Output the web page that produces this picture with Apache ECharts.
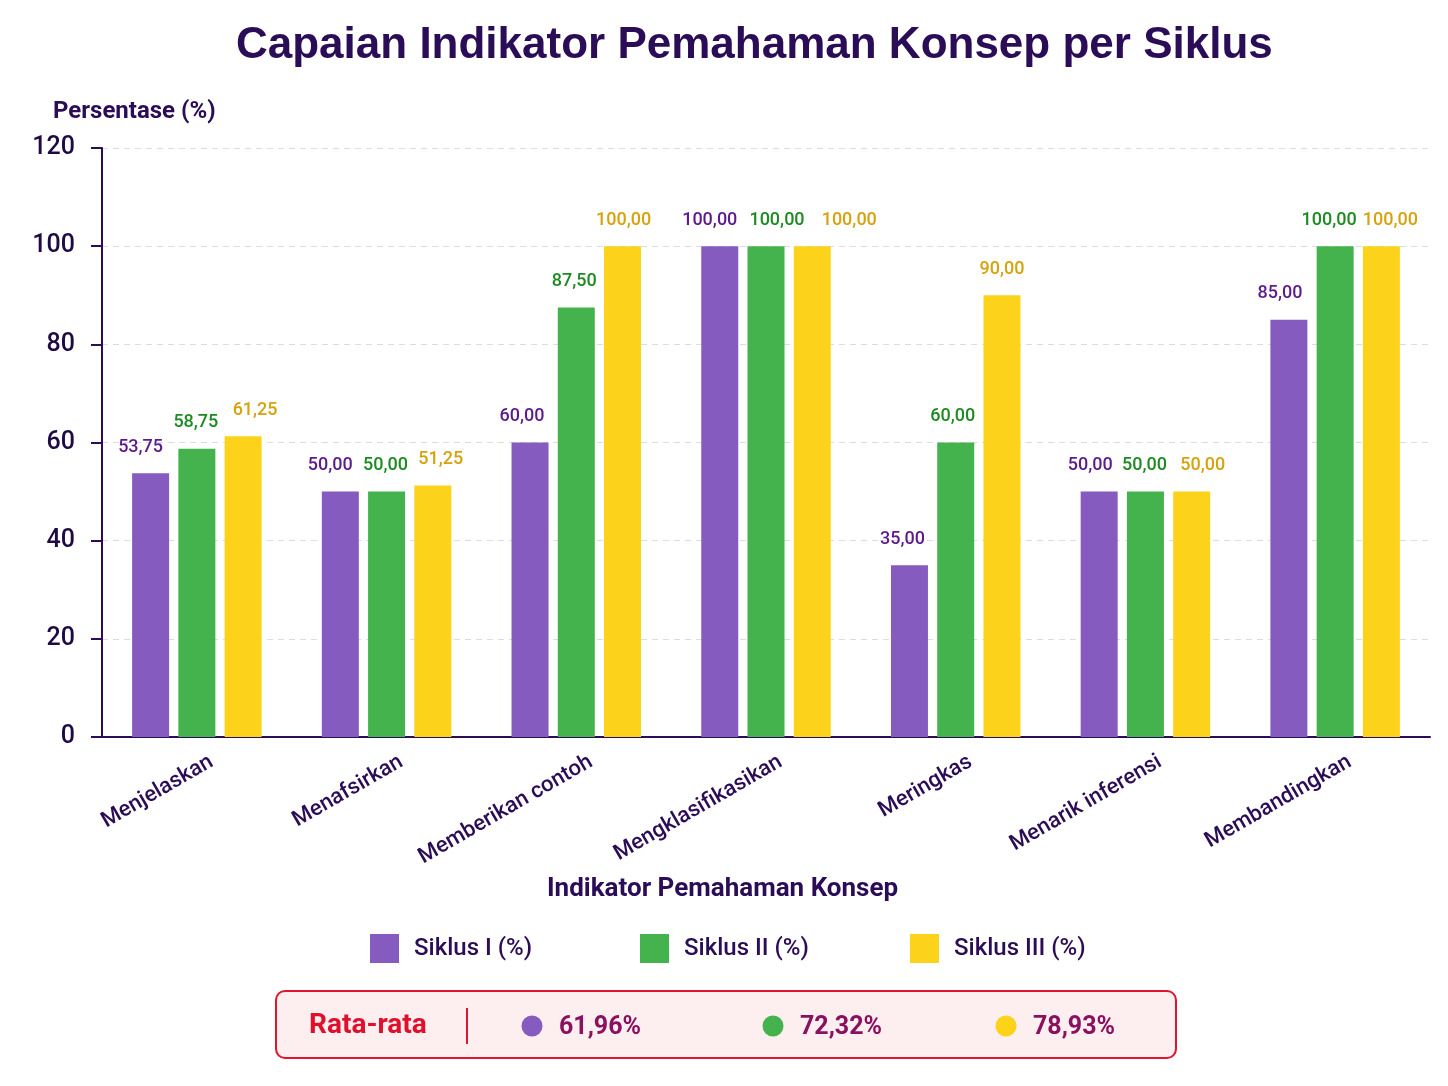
<!DOCTYPE html>
<html><head><meta charset="utf-8">
<script src="https://cdn.jsdelivr.net/npm/echarts@6/dist/echarts.min.js"></script>
<style>html,body{margin:0;padding:0;background:#fff}#c{width:1448px;height:1086px}</style>
</head><body><div id="c"></div>
<script>
const categories = ['Menjelaskan','Menafsirkan','Memberikan contoh','Mengklasifikasikan','Meringkas','Menarik inferensi','Membandingkan'];
const seriesNames = ['Siklus I (%)','Siklus II (%)','Siklus III (%)'];
const siklus1 = [53.75, 50.00, 60.00, 100.00, 35.00, 50.00, 85.00];
const siklus2 = [58.75, 50.00, 87.50, 100.00, 60.00, 50.00, 100.00];
const siklus3 = [61.25, 51.25, 100.00, 100.00, 90.00, 50.00, 100.00];
const averages = ['61,96%','72,32%','78,93%'];
const yTicks = {min:0, max:120, interval:20};

const barColors = ['#865bbf','#45b34d','#fdd21a'];
const labelColors = ['#5c1a8c','#1e8a22','#d6a20e'];
// horizontal nudges of value labels (style only), per series per category
const labelNudge = [
  [-10,-10,-8,-10,-7,-9,-9],
  [-1,-1,-2,11,-3,-1,-6],
  [12,8,1,37,0,11,9]
];
const dark = '#2b0c57';
const FONT = 'Roboto';

const fmt = v => v.toFixed(2).replace('.', ',');

const chart = echarts.init(document.getElementById('c'));
const dataSets = [siklus1, siklus2, siklus3];
const legendLefts = [370, 640, 910];

const avgGraphics = [];
const circleX = [532, 773, 1006];
averages.forEach((a,i)=>{
  avgGraphics.push({type:'circle', shape:{cx:circleX[i], cy:1026, r:10.5}, style:{fill:barColors[i]}, z:10});
  avgGraphics.push({type:'text', left:circleX[i]+27, top:1015, style:{text:a, fill:'#8a1060', font:'bold 25px Roboto'}, z:10});
});

chart.setOption({
  backgroundColor:'#ffffff',
  animation:false,
  textStyle:{fontFamily:FONT},
  title:{text:'Capaian Indikator Pemahaman Konsep per Siklus', left:236, top:24, padding:0,
    textStyle:{fontFamily:'Liberation Sans', fontSize:44, fontWeight:'bold', color:dark}},
  legend: seriesNames.map((n,i)=>({data:[n], left:legendLefts[i], top:934, padding:0, itemWidth:29, itemHeight:29, itemGap:0,
     icon:'rect', textStyle:{fontSize:24, fontWeight:500, color:dark, fontFamily:FONT, padding:[2,0,0,10]}})),
  grid:{left:102, right:18, top:148, bottom:349, containLabel:false},
  xAxis:{type:'category', data:categories,
    axisLine:{show:true, lineStyle:{color:dark, width:2}},
    axisTick:{show:false},
    axisLabel:{rotate:30, fontSize:22, fontWeight:500, color:dark, margin:32, interval:0, fontFamily:FONT, padding:[0,-17,0,0]}},
  yAxis:{type:'value', min:yTicks.min, max:yTicks.max, interval:yTicks.interval,
    axisLine:{show:true, lineStyle:{color:dark, width:2}},
    axisTick:{show:true, length:11, lineStyle:{color:dark, width:2}},
    axisLabel:{fontSize:25, fontWeight:500, color:'#1e0b45', margin:27, fontFamily:FONT},
    splitLine:{show:true, lineStyle:{color:'#dddddd', type:[6,5], width:1}}},
  series: dataSets.map((d,i)=>({
    name:seriesNames[i], type:'bar', barWidth:37, barGap:'25%',
    data:d.map((v,j)=>({value:v, label:{offset:[labelNudge[i][j],0]}})),
    itemStyle:{color:barColors[i]},
    label:{show:true, position:'top', distance:17, formatter:p=>fmt(p.value), color:labelColors[i], fontSize:18, fontWeight:500, fontFamily:FONT}
  })),
  graphic:[
    {type:'text', left:53, top:100, style:{text:'Persentase (%)', fill:dark, font:'bold 24px Roboto'}},
    {type:'text', left:547, top:876, style:{text:'Indikator Pemahaman Konsep', fill:dark, font:'bold 26px Roboto'}},
    {type:'rect', shape:{x:276, y:991, width:900, height:67, r:9}, style:{fill:'#fdeef0', stroke:'#e0142c', lineWidth:2}},
    {type:'text', left:309, top:1012, style:{text:'Rata-rata', fill:'#e0102a', font:'bold 28px Roboto'}, z:10},
    {type:'line', shape:{x1:467, y1:1008, x2:467, y2:1044}, style:{stroke:'#e0142c', lineWidth:2}, z:10},
    ...avgGraphics
  ]
});
</script></body></html>
